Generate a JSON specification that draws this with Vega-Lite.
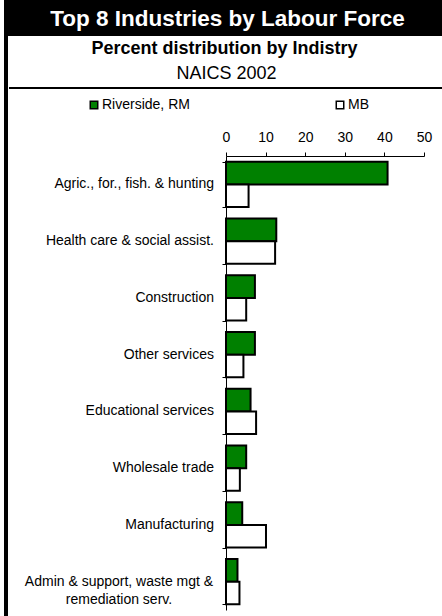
{
  "$schema": "https://vega.github.io/schema/vega-lite/v6.json",
  "background": "white",
  "padding": {"left": 3, "top": 0, "right": 0, "bottom": 0},
  "config": {"font": "Liberation Sans", "view": {"stroke": null}, "concat": {"spacing": 0}},
  "datasets": {
    "ind": [
      {"industry": "Agric., for., fish. & hunting", "region": "Riverside, RM", "pct": 40.8},
      {"industry": "Agric., for., fish. & hunting", "region": "MB", "pct": 5.7},
      {"industry": "Health care & social assist.", "region": "Riverside, RM", "pct": 12.7},
      {"industry": "Health care & social assist.", "region": "MB", "pct": 12.4},
      {"industry": "Construction", "region": "Riverside, RM", "pct": 7.3},
      {"industry": "Construction", "region": "MB", "pct": 5.1},
      {"industry": "Other services", "region": "Riverside, RM", "pct": 7.3},
      {"industry": "Other services", "region": "MB", "pct": 4.4},
      {"industry": "Educational services", "region": "Riverside, RM", "pct": 6.2},
      {"industry": "Educational services", "region": "MB", "pct": 7.6},
      {"industry": "Wholesale trade", "region": "Riverside, RM", "pct": 5.1},
      {"industry": "Wholesale trade", "region": "MB", "pct": 3.5},
      {"industry": "Manufacturing", "region": "Riverside, RM", "pct": 4.1},
      {"industry": "Manufacturing", "region": "MB", "pct": 10.1},
      {"industry": "Admin & support, waste mgt &\nremediation serv.", "region": "Riverside, RM", "pct": 2.9},
      {"industry": "Admin & support, waste mgt &\nremediation serv.", "region": "MB", "pct": 3.4}
    ]
  },
  "spacing": 0,
  "vconcat": [
    {
      "width": 439,
      "height": 36,
      "view": {"fill": "black", "stroke": null},
      "data": {"values": [{"t": "Top 8 Industries by Labour Force"}]},
      "mark": {"type": "text", "color": "white", "fontWeight": "bold", "fontSize": 22.5, "dx": 4, "dy": 1, "baseline": "middle", "align": "center"},
      "encoding": {"text": {"field": "t"}}
    },
    {
      "spacing": 0,
      "hconcat": [
        {
          "width": 4,
          "height": 580,
          "view": {"fill": "black", "stroke": null},
          "data": {"values": [{}]},
          "mark": {"type": "point", "opacity": 0},
          "encoding": {}
        },
        {
          "spacing": 39,
          "vconcat": [
            {
              "spacing": 0,
              "vconcat": [
                {
                  "width": 435,
                  "height": 49,
                  "layer": [
                    {
                      "data": {"values": [{"t": "Percent distribution by Indistry"}]},
                      "mark": {"type": "text", "fontWeight": "bold", "fontSize": 18, "dy": -12, "dx": -2, "color": "black", "align": "center", "baseline": "middle"},
                      "encoding": {"text": {"field": "t"}}
                    },
                    {
                      "data": {"values": [{"t": "NAICS 2002"}]},
                      "mark": {"type": "text", "fontSize": 18, "dy": 13, "color": "black", "align": "center", "baseline": "middle"},
                      "encoding": {"text": {"field": "t"}}
                    }
                  ]
                },
                {
                  "width": 435,
                  "height": 2,
                  "view": {"fill": "black", "stroke": null},
                  "data": {"values": [{}]},
                  "mark": {"type": "point", "opacity": 0},
                  "encoding": {}
                }
              ]
            },
            {
              "spacing": 0,
              "hconcat": [
                {
                  "width": 212,
                  "height": 454,
                  "data": {"name": "ind"},
                  "transform": [{"filter": {"field": "region", "equal": "MB"}}],
                  "encoding": {
                    "y": {
                      "field": "industry",
                      "type": "nominal",
                      "sort": null,
                      "axis": null,
                      "scale": {
                        "domain": ["Agric., for., fish. & hunting", "Health care & social assist.", "Construction", "Other services", "Educational services", "Wholesale trade", "Manufacturing", "Admin & support, waste mgt &\nremediation serv."],
                        "paddingInner": 0.2,
                        "paddingOuter": 0.1
                      }
                    },
                    "x": {"value": "width"},
                    "text": {"field": "industry"}
                  },
                  "layer": [
                    {
                      "transform": [{"filter": {"not": {"field": "industry", "equal": "Admin & support, waste mgt &\nremediation serv."}}}],
                      "mark": {"type": "text", "align": "right", "dx": -7, "fontSize": 14, "color": "black", "baseline": "middle"}
                    },
                    {
                      "transform": [{"filter": {"field": "industry", "equal": "Admin & support, waste mgt &\nremediation serv."}}],
                      "mark": {"type": "text", "align": "center", "dx": -102, "dy": 0, "fontSize": 14, "color": "black", "baseline": "middle", "lineBreak": "\n", "lineHeight": 18}
                    }
                  ]
                },
                {
                  "width": 198,
                  "height": 454,
                  "data": {"name": "ind"},
                  "mark": {"type": "bar", "stroke": "black", "strokeWidth": 2},
                  "encoding": {
                    "y": {
                      "field": "industry",
                      "type": "nominal",
                      "sort": null,
                      "scale": {
                        "domain": ["Agric., for., fish. & hunting", "Health care & social assist.", "Construction", "Other services", "Educational services", "Wholesale trade", "Manufacturing", "Admin & support, waste mgt &\nremediation serv."],
                        "paddingInner": 0.2,
                        "paddingOuter": 0.1
                      },
                      "axis": {"labels": false, "title": null, "ticks": true, "tickBand": "extent", "tickSize": 4, "tickColor": "black", "domainColor": "black", "grid": false}
                    },
                    "yOffset": {"field": "region", "type": "nominal", "sort": ["Riverside, RM", "MB"]},
                    "x": {
                      "field": "pct",
                      "type": "quantitative",
                      "scale": {"domain": [0, 50]},
                      "axis": {"orient": "top", "values": [0, 10, 20, 30, 40, 50], "grid": false, "title": null, "tickSize": 4, "labelFontSize": 14, "labelColor": "black", "labelPadding": 8, "domainColor": "black", "tickColor": "black", "labelFlush": false}
                    },
                    "color": {
                      "field": "region",
                      "type": "nominal",
                      "scale": {"domain": ["Riverside, RM", "MB"], "range": ["#008000", "#ffffff"]},
                      "legend": {"orient": "none", "legendX": 83, "legendY": 98, "direction": "horizontal", "title": null, "columnPadding": 143, "symbolType": "square", "symbolSize": 56, "symbolStrokeColor": "black", "symbolStrokeWidth": 1.5, "labelFontSize": 14, "labelColor": "black", "padding": 0, "labelOffset": 1}
                    }
                  }
                }
              ]
            }
          ]
        }
      ]
    }
  ]
}
